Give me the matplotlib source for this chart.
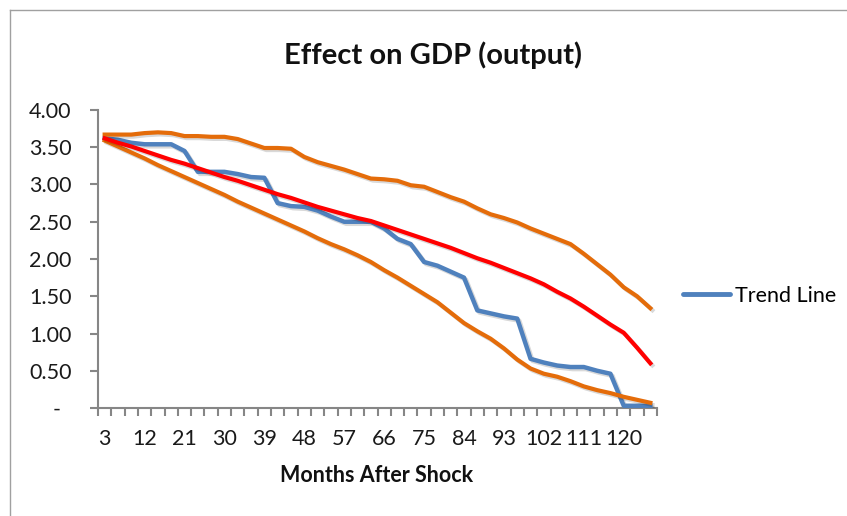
import matplotlib
matplotlib.use("Agg")
import matplotlib.pyplot as plt
import matplotlib.patheffects as pe
from matplotlib.lines import Line2D

plt.rcParams['font.family'] = ['Lato', 'DejaVu Sans']

# months after shock (categories)
months = [3, 6, 9, 12, 15, 18, 21, 24, 27, 30, 33, 36, 39, 42, 45, 48, 51, 54, 57, 60, 63,
          66, 69, 72, 75, 78, 81, 84, 87, 90, 93, 96, 99, 102, 105, 108, 111, 114, 117, 120,
          123, 126]

# blue series ("Trend Line" in legend)
trend = [3.62, 3.60, 3.56, 3.54, 3.54, 3.54, 3.45, 3.17, 3.17, 3.17, 3.14, 3.10, 3.09, 2.75,
         2.71, 2.70, 2.65, 2.57, 2.50, 2.50, 2.50, 2.41, 2.27, 2.20, 1.96, 1.91, 1.83, 1.75,
         1.31, 1.27, 1.23, 1.20, 0.66, 0.61, 0.57, 0.55, 0.55, 0.50, 0.46, 0.03, 0.03, 0.03]

# red smooth fit
fit = [3.62, 3.56, 3.51, 3.45, 3.39, 3.33, 3.28, 3.22, 3.16, 3.10, 3.05, 2.99, 2.93, 2.87,
       2.82, 2.76, 2.70, 2.65, 2.60, 2.55, 2.51, 2.45, 2.39, 2.33, 2.27, 2.21, 2.15, 2.08,
       2.01, 1.95, 1.88, 1.81, 1.74, 1.66, 1.56, 1.47, 1.36, 1.24, 1.12, 1.01, 0.81, 0.60]

# orange bands
upper = [3.67, 3.67, 3.67, 3.69, 3.70, 3.69, 3.65, 3.65, 3.64, 3.64, 3.61, 3.55, 3.49, 3.49,
         3.48, 3.37, 3.30, 3.25, 3.20, 3.14, 3.08, 3.07, 3.05, 2.99, 2.97, 2.90, 2.83, 2.77,
         2.68, 2.60, 2.55, 2.49, 2.41, 2.34, 2.27, 2.20, 2.07, 1.93, 1.79, 1.62, 1.50, 1.34]
lower = [3.59, 3.51, 3.43, 3.35, 3.26, 3.18, 3.10, 3.02, 2.94, 2.86, 2.77, 2.69, 2.61, 2.53,
         2.45, 2.37, 2.28, 2.20, 2.13, 2.05, 1.96, 1.85, 1.75, 1.64, 1.53, 1.42, 1.28, 1.14,
         1.03, 0.93, 0.80, 0.65, 0.53, 0.46, 0.42, 0.36, 0.29, 0.24, 0.20, 0.15, 0.11, 0.07]

yticks = [0, 0.5, 1.0, 1.5, 2.0, 2.5, 3.0, 3.5, 4.0]

BLUE = '#4F81BD'
ORANGE = '#E46C0A'
RED = '#FF0000'
GRAY = '#868686'
FS = 15.5

fig = plt.figure(figsize=(8.47, 5.16), dpi=100)
ax = fig.add_axes([98 / 847, 1 - 408 / 516, 559 / 847, 298 / 516])

shadow = [pe.SimpleLineShadow(offset=(1.5, -1.5), shadow_color='k', alpha=0.15), pe.Normal()]
x = list(range(len(months)))

ax.plot(x, trend, color=BLUE, lw=3.2, solid_joinstyle='round',
        path_effects=shadow, label='Trend Line', zorder=3)
ax.plot(x, upper, color=ORANGE, lw=3, solid_joinstyle='round', path_effects=shadow, zorder=4)
ax.plot(x, lower, color=ORANGE, lw=3, solid_joinstyle='round', path_effects=shadow, zorder=4)
ax.plot(x, fit, color=RED, lw=3, solid_joinstyle='round', path_effects=shadow, zorder=5)

ax.set_xlim(-0.5, len(months) - 0.5)
ax.set_ylim(0, 4)

for s in ['top', 'right']:
    ax.spines[s].set_visible(False)
for s in ['left', 'bottom']:
    ax.spines[s].set_color(GRAY)
    ax.spines[s].set_linewidth(1.5)

# y axis
ax.set_yticks(yticks)
ax.set_yticklabels(['-  '] + ['%.2f' % v for v in yticks[1:]])
ax.tick_params(axis='y', length=6, width=1.5, color=GRAY, pad=13, labelsize=FS,
               labelcolor='#1a1a1a')

# x axis: ticks between categories, labels every 3rd category
ax.set_xticks(x[::3])
ax.set_xticklabels([str(m) for m in months[::3]])
ax.set_xticks([i - 0.5 for i in range(len(months) + 1)], minor=True)
ax.tick_params(axis='x', which='major', length=0, pad=15, labelsize=FS, labelcolor='#1a1a1a')
ax.tick_params(axis='x', which='minor', length=6, width=1.5, color=GRAY)

fig.text(433 / 847, 1 - 55 / 516, 'Effect on GDP (output)', ha='center', va='center',
         fontsize=21, fontweight='bold', color='#111111')
fig.text(377 / 847, 1 - 475 / 516, 'Months After Shock', ha='center', va='center',
         fontsize=FS, fontweight='bold', color='#111111')

fig.legend(handles=[Line2D([], [], color=BLUE, lw=3.5, solid_capstyle='round')],
           labels=['Trend Line'], loc='center left', bbox_to_anchor=(683 / 847, 1 - 296 / 516),
           frameon=False, fontsize=FS, handlelength=2.2, handletextpad=0.2,
           borderpad=0, borderaxespad=0)

# chart area border (top and left edge visible)
fig.add_artist(Line2D([10 / 847, 10 / 847], [0, 1 - 10 / 516], color='#a0a0a0', lw=1,
                      transform=fig.transFigure))
fig.add_artist(Line2D([10 / 847, 1], [1 - 10 / 516, 1 - 10 / 516], color='#a0a0a0', lw=1,
                      transform=fig.transFigure))

fig.savefig('out.png', dpi=100)
